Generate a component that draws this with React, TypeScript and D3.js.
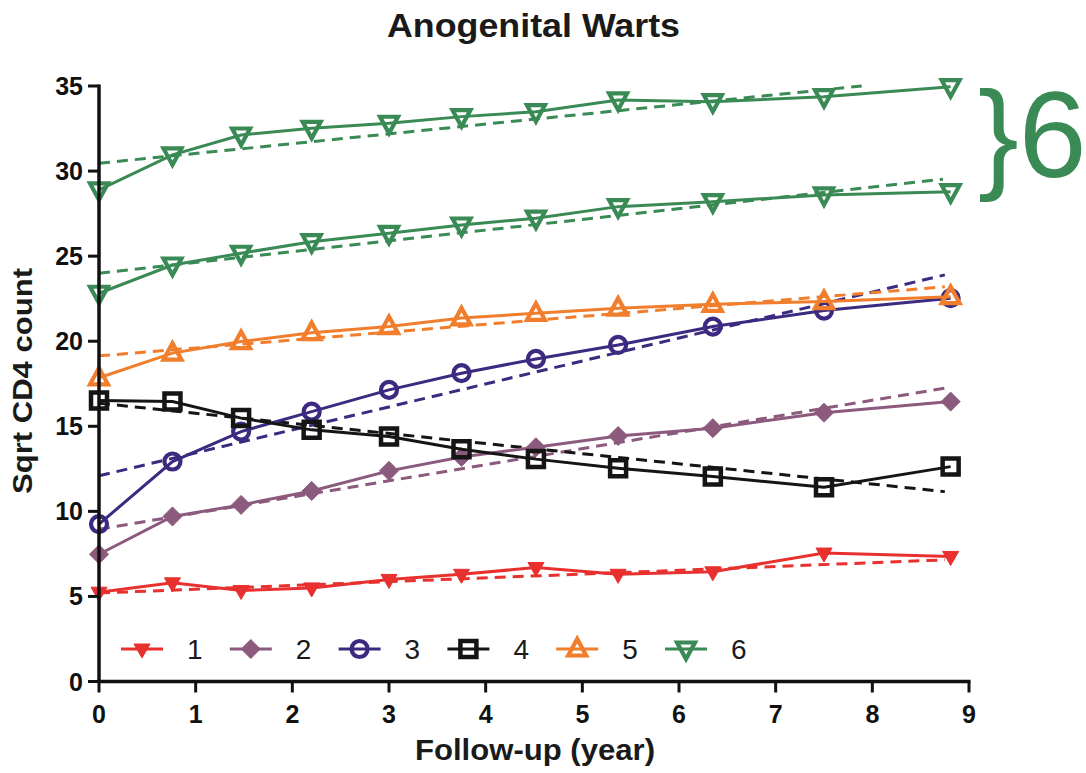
import React from "react";
import * as d3 from "d3";

// Follow-up visit times (years)
const years = [0, 0.76, 1.47, 2.2, 3, 3.75, 4.52, 5.37, 6.35, 7.5, 8.81];

// Mean sqrt CD4 count per trajectory group
const group1 = [5.25, 5.8, 5.35, 5.5, 6.0, 6.3, 6.7, 6.3, 6.45, 7.55, 7.35];
const group2 = [7.48, 9.7, 10.38, 11.2, 12.38, 13.2, 13.77, 14.43, 14.89, 15.8, 16.45];
const group3 = [9.25, 12.93, 14.69, 15.86, 17.14, 18.12, 18.96, 19.78, 20.86, 21.8, 22.53];
const group4 = [16.51, 16.45, 15.48, 14.79, 14.4, 13.65, 13.07, 12.54, 12.05, 11.42, 12.63];
const group5 = [17.85, 19.3, 19.98, 20.5, 20.86, 21.37, 21.64, 21.94, 22.17, 22.33, 22.62];
const group6Low = [22.82, 24.48, 25.17, 25.85, 26.34, 26.83, 27.23, 27.91, 28.2, 28.6, 28.79];
const group6High = [28.89, 30.95, 32.12, 32.51, 32.81, 33.2, 33.49, 34.18, 34.08, 34.37, 34.96];

// Fitted linear trends: [startYear, startValue, endYear, endValue]
const trend1 = [0, 5.2, 8.75, 7.15];
const trend2 = [0, 8.95, 8.75, 17.24];
const trend3 = [0, 12.09, 8.75, 23.9];
const trend4 = [0, 16.36, 8.75, 11.16];
const trend5 = [0, 19.14, 8.75, 23.2];
const trend6Low = [0, 24.0, 8.73, 29.52];
const trend6High = [0, 30.46, 7.89, 35.0];

const legendLabels = ["1", "2", "3", "4", "5", "6"];
const xTicks = [0, 1, 2, 3, 4, 5, 6, 7, 8, 9];
const yTicks = [0, 5, 10, 15, 20, 25, 30, 35];

type Shape = "triDown" | "diamond" | "circle" | "square" | "triUp";

const styles: { color: string; shape: Shape; filled: boolean }[] = [
  { color: "#e8302e", shape: "triDown", filled: true },
  { color: "#8b5a7d", shape: "diamond", filled: true },
  { color: "#3b2a80", shape: "circle", filled: false },
  { color: "#151515", shape: "square", filled: false },
  { color: "#f07e2c", shape: "triUp", filled: false },
  { color: "#3a8a55", shape: "triDown", filled: false },
];

const series = [
  { group: 0, values: group1, trend: trend1 },
  { group: 1, values: group2, trend: trend2 },
  { group: 2, values: group3, trend: trend3 },
  { group: 3, values: group4, trend: trend4 },
  { group: 4, values: group5, trend: trend5 },
  { group: 5, values: group6Low, trend: trend6Low },
  { group: 5, values: group6High, trend: trend6High },
];

const W = 1086;
const H = 773;
const x = d3.scaleLinear().domain([0, 9]).range([99, 969]);
const y = d3.scaleLinear().domain([0, 35]).range([681.5, 86]);

function markerPath(shape: Shape, filled: boolean): string {
  const p = d3.path();
  if (shape === "triDown") {
    const w = filled ? 8 : 9;
    const hTop = filled ? 5 : 6.5;
    const hBot = filled ? 9 : 10;
    p.moveTo(-w, -hTop);
    p.lineTo(w, -hTop);
    p.lineTo(0, hBot);
    p.closePath();
  } else if (shape === "triUp") {
    p.moveTo(-9, 6.5);
    p.lineTo(9, 6.5);
    p.lineTo(0, -10);
    p.closePath();
  } else if (shape === "diamond") {
    p.moveTo(0, -9.5);
    p.lineTo(9.5, 0);
    p.lineTo(0, 9.5);
    p.lineTo(-9.5, 0);
    p.closePath();
  } else if (shape === "square") {
    p.rect(-8, -8, 16, 16);
  } else {
    p.arc(0, 0, 8, 0, Math.PI * 2);
  }
  return p.toString();
}

function Marker({ cx, cy, g }: { cx: number; cy: number; g: number }) {
  const s = styles[g];
  return (
    <path
      d={markerPath(s.shape, s.filled)}
      transform={`translate(${cx},${cy})`}
      fill={s.filled ? s.color : "none"}
      stroke={s.color}
      strokeWidth={s.filled ? 1 : s.shape === "square" ? 4.5 : 4.2}
      strokeLinejoin="miter"
    />
  );
}

export default function App() {
  const line = d3
    .line<number>()
    .x((_, i) => x(years[i]))
    .y((v) => y(v));

  const legendX = d3.scalePoint<string>().domain(legendLabels).range([142, 686]);
  const legendY = 649;

  const font = "'Liberation Sans', Arial, Helvetica, sans-serif";

  return (
    <svg
      width={W}
      height={H}
      style={{ position: "absolute", left: 0, top: 0, background: "#fff" }}
      fontFamily={font}
    >
      <rect width={W} height={H} fill="#fff" />

      {/* title */}
      <text
        x={533.5}
        y={37}
        textAnchor="middle"
        fontSize={34}
        fontWeight="bold"
        fill="#1a1a1a"
        textLength={293}
        lengthAdjust="spacingAndGlyphs"
      >
        Anogenital Warts
      </text>

      {/* trend lines */}
      {series.map((s, i) => (
        <line
          key={`t${i}`}
          x1={x(s.trend[0])}
          y1={y(s.trend[1])}
          x2={x(s.trend[2])}
          y2={y(s.trend[3])}
          stroke={styles[s.group].color}
          strokeWidth={3}
          strokeDasharray="11 7"
        />
      ))}

      {/* observed trajectories */}
      {series.map((s, i) => (
        <g key={`s${i}`}>
          <path d={line(s.values) || ""} fill="none" stroke={styles[s.group].color} strokeWidth={3} />
          {s.values.map((v, j) => (
            <Marker key={j} cx={x(years[j])} cy={y(v)} g={s.group} />
          ))}
        </g>
      ))}

      {/* y axis */}
      <line x1={x(0)} x2={x(0)} y1={y(35) - 1.5} y2={y(0) + 1.5} stroke="#111" strokeWidth={3.5} />
      {yTicks.map((t) => (
        <g key={`y${t}`}>
          <line x1={x(0) - 11} x2={x(0)} y1={y(t)} y2={y(t)} stroke="#111" strokeWidth={3} />
          <text
            x={x(0) - 16}
            y={y(t) + 9}
            textAnchor="end"
            fontSize={25}
            fontWeight="bold"
            fill="#111"
          >
            {t}
          </text>
        </g>
      ))}

      {/* x axis */}
      <line x1={x(0) - 1.5} x2={x(9) + 1.5} y1={y(0)} y2={y(0)} stroke="#111" strokeWidth={3.5} />
      {xTicks.map((t) => (
        <g key={`x${t}`}>
          <line x1={x(t)} x2={x(t)} y1={y(0)} y2={y(0) + 11} stroke="#111" strokeWidth={3} />
          <text x={x(t)} y={723} textAnchor="middle" fontSize={25} fontWeight="bold" fill="#111">
            {t}
          </text>
        </g>
      ))}

      {/* axis titles */}
      <text
        x={535}
        y={760}
        textAnchor="middle"
        fontSize={29}
        fontWeight="bold"
        fill="#1a1a1a"
        textLength={240}
        lengthAdjust="spacingAndGlyphs"
      >
        Follow-up (year)
      </text>
      <text
        transform="translate(32,381) rotate(-90)"
        textAnchor="middle"
        fontSize={28}
        fontWeight="bold"
        fill="#1a1a1a"
        textLength={226}
        lengthAdjust="spacingAndGlyphs"
      >
        Sqrt CD4 count
      </text>

      {/* legend */}
      {legendLabels.map((lab, i) => {
        const cx = legendX(lab) as number;
        const c = styles[i].color;
        return (
          <g key={`l${lab}`}>
            <line x1={cx - 21} x2={cx + 21} y1={legendY} y2={legendY} stroke={c} strokeWidth={3} />
            <Marker cx={cx} cy={legendY} g={i} />
            <text x={cx + 45} y={legendY + 10} fontSize={28} fill="#1a1a1a">
              {lab}
            </text>
          </g>
        );
      })}

      {/* bracket marking the two group-6 trajectories */}
      <text x={978} y={177} fontSize={122} fill="#3a8a55">
        {"}6"}
      </text>
    </svg>
  );
}
